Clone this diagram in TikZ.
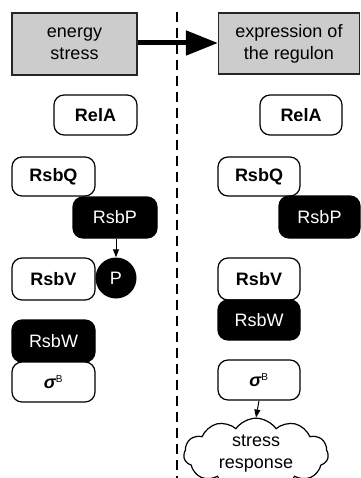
\documentclass[tikz,border=0pt]{standalone}
\usepackage{fontspec}
\setmainfont{Liberation Sans}
\usetikzlibrary{arrows.meta,shapes.symbols}

\begin{document}
\begin{tikzpicture}[
            x=1pt, y=-1pt,
            every node/.style={
                inner sep=0pt, align=center, font=\fontsize{18}{22}\selectfont
            },
            signal/.style={
                rectangle, draw=black!85, line width=1.2pt, fill=gray!40
            },
            protein/.style={
                rectangle, draw, line width=1.2pt, rounded corners=10pt,
                fill=white, font=\fontsize{18}{22}\selectfont\bfseries
            },
            kinase/.style={
                rectangle, draw, line width=1.2pt, rounded corners=10pt,
                fill=black, text=white
            },
            small arrow/.style={-{Triangle[length=8pt,width=6pt]}, line width=1pt}
        ]
        \useasboundingbox (0,0) rectangle (360,478);

        % stress signal and its outcome
        \node[signal, minimum width=125pt, minimum height=62pt] (stress) at (74.5,44) {energy\\stress};
        \node[signal, minimum width=141pt, minimum height=61pt] (regulon) at (289,43.5) {expression of\\the regulon};
        \draw[line width=5pt, -{Triangle[length=32pt,width=24pt]}] (stress.east |- 0,43) -- (regulon.west |- 0,43);

        % separator
        \coordinate (sep top) at (177,12);
        \coordinate (sep bot) at (177,478);
        \draw[line width=1.2pt, dash pattern=on 10pt off 6pt] (sep top) -- (sep bot);

        % before stress
        \node[protein, minimum width=83pt, minimum height=40pt] (relA1) at (95.5,115) {RelA};
        \node[protein, minimum width=83pt, minimum height=39pt] (rsbQ1) at (53.5,176.5) {RsbQ};
        \node[kinase, minimum width=84pt, minimum height=41pt] (rsbP1) at (115,217.5) {RsbP};
        \node[protein, minimum width=83pt, minimum height=42pt] (rsbV1) at (53.5,279) {RsbV};
        \node[circle, fill=black, text=white, minimum size=41pt] (phos) at (116,278) {P};
        \node[kinase, minimum width=83pt, minimum height=42pt] (rsbW1) at (53.5,341) {RsbW};
        \node[protein, minimum width=83pt, minimum height=40pt] (sigB1) at (53.5,382) {\itshape σ\textsuperscript{\normalfont\fontsize{10}{10}\selectfont B}};
        \draw[small arrow] (rsbP1.south -| phos) -- (phos.north);

        % after stress
        \node[protein, minimum width=82pt, minimum height=40pt] (relA2) at (301,115) {RelA};
        \node[protein, minimum width=82pt, minimum height=39pt] (rsbQ2) at (259,176.5) {RsbQ};
        \node[kinase, minimum width=81pt, minimum height=42pt] (rsbP2) at (319.5,217) {RsbP};
        \node[protein, minimum width=82pt, minimum height=42pt] (rsbV2) at (259,279) {RsbV};
        \node[kinase, minimum width=82pt, minimum height=40pt] (rsbW2) at (259,320) {RsbW};
        \node[protein, minimum width=82pt, minimum height=40pt] (sigB2) at (259,380) {\itshape σ\textsuperscript{\normalfont\fontsize{10}{10}\selectfont B}};
        \node[cloud, draw, line width=1.2pt, cloud puffs=11, cloud puff arc=110,
              minimum width=137pt, minimum height=50pt, aspect=2.7] (response) at (256,454) {stress\\response};
        \draw[small arrow] (sigB2.south) -- (response.north);

    \end{tikzpicture}
\end{document}
